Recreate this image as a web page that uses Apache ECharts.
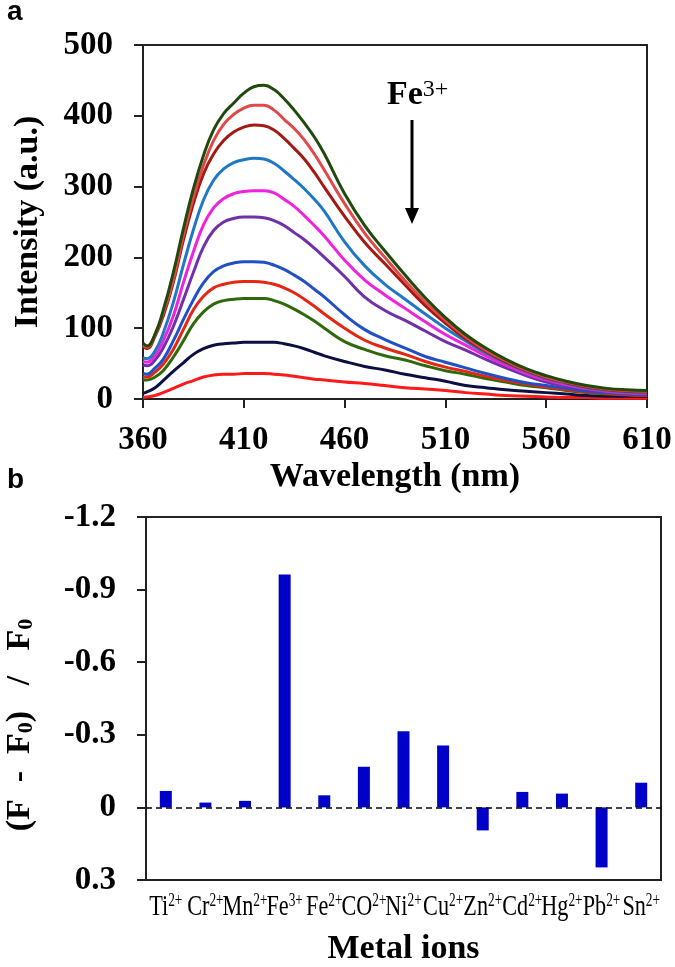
<!DOCTYPE html>
<html><head><meta charset="utf-8">
<script src="https://cdn.jsdelivr.net/npm/echarts@6/dist/echarts.min.js"></script>
<style>html,body{margin:0;padding:0;background:#fff;}#c{width:675px;height:967px;}</style>
</head><body><div id="c"></div>
<script>
// ---- Panel a: fluorescence spectra (Fe3+ titration) ----
const wavelengths = [360,362,366,370,375,380,385,390,395,400,405,410,415,420,425,430,435,440,445,450,460,470,480,490,500,510,520,530,540,550,560,570,580,590,600,610];
const curve1  = [79,75,92,125,178,240,297,344,380,403,418,432,441,443,437,424,408,390,370,346,290,245,209,175,143,115,91,72,56,43,33,25,19,15,13,12];
const curve2  = [76,73,91,121,168,231,285,330,365,388,402,411,415,415,408,395,382,366,346,323,276,234,200,167,137,111,88,69,54,41,31,24,18,14,12,11];
const curve3  = [74,71,89,117,164,224,276,318,346,365,377,384,387,386,380,368,354,339,320,299,258,221,191,161,132,107,85,67,52,40,30,23,17,13,11,10];
const curve4  = [58,57,68,93,136,189,239,281,309,325,334,338,340,339,333,322,310,297,282,265,222,188,162,141,120,100,82,65,51,39,29,22,16,12,10,9];
const curve5  = [53,52,61,82,117,164,208,246,270,283,290,293,294,294,291,282,272,259,245,230,196,168,147,128,109,91,76,61,48,36,27,20,15,11,9,8];
const curve6  = [48,47,55,72,102,140,179,215,238,250,255,257,257,256,252,245,235,225,213,200,173,144,125,111,96,81,69,56,44,33,24,18,13,10,8,7];
const curve7  = [36,35,44,56,82,112,140,164,180,188,192,194,194,193,189,183,175,166,155,144,119,98,84,72,60,52,44,36,29,23,19,15,11,9,7,6];
const curve8  = [31,31,38,49,70,98,126,145,157,162,165,166,166,165,162,157,150,141,131,120,100,83,72,63,53,45,39,32,26,21,17,13,10,8,6,5];
const curve9  = [27,27,31,40,59,82,106,123,134,139,141,142,142,142,139,134,127,119,110,100,81,70,61,55,47,40,35,29,24,19,16,12,9,7,6,5];
const curve10 = [8,10,16,26,39,51,63,71,76,78,79,80,80,80,80,78,75,71,66,61,53,46,41,35,30,25,19,16,13,11,9,7,5,4,4,4];
const curve11 = [2,3,5,9,15,21,26,31,34,35,35,36,36,36,35,34,32,30,28,27,24,22,19,16,14,12,9,7,5,4,3,2,2,1,1,1];
const curves = [curve1,curve2,curve3,curve4,curve5,curve6,curve7,curve8,curve9,curve10,curve11];
const curveColors = ['#1f4a0c','#e0484a','#a31a12','#1f78c6','#f022dc','#7030aa','#2050c6','#e62612','#2e6a0a','#0c1040','#ff1a1a'];

// ---- Panel b: metal ion selectivity ----
const metalIons = ['Ti2+','Cr2+','Mn2+','Fe3+','Fe2+','CO2+','Ni2+','Cu2+','Zn2+','Cd2+','Hg2+','Pb2+','Sn2+'];
const quenchRatio = [-0.068,-0.020,-0.027,-0.962,-0.050,-0.168,-0.315,-0.256,0.095,-0.064,-0.057,0.248,-0.102];

const SERIF = '"Liberation Serif","Times New Roman",serif';
const chart = echarts.init(document.getElementById('c'), null, {renderer:'canvas'});

const lineSeries = curves.map((c, i) => ({
  type:'line', xAxisIndex:0, yAxisIndex:0,
  data: wavelengths.map((w, j) => [w, c[j]]),
  smooth: 0.45, showSymbol:false, silent:true,
  lineStyle:{color:curveColors[i], width:3},
  itemStyle:{color:curveColors[i]},
  z: 20 - i
}));

const tickFont = {fontFamily:SERIF, fontWeight:'bold', fontSize:33, color:'#000'};
const nameFont = {fontFamily:SERIF, fontWeight:'bold', fontSize:34, color:'#000'};
const axisLineStyle = {color:'#222', width:2};

const baseGraphic = [
  {id:'pa', type:'text', x:7, y:-2, style:{text:'a', font:'bold 28px "Liberation Sans", Arial, sans-serif', fill:'#000'}},
  {id:'pb', type:'text', x:7, y:466, style:{text:'b', font:'bold 28px "Liberation Sans", Arial, sans-serif', fill:'#000'}},
  {id:'fe', type:'text', x:387, y:78, style:{text:'{a|Fe}{b|3+}', rich:{
    a:{fontFamily:SERIF, fontWeight:'bold', fontSize:34, fill:'#000'},
    b:{fontFamily:SERIF, fontSize:24, fill:'#000', verticalAlign:'top'}}}},
  {id:'arrS', type:'line', shape:{x1:412, y1:120, x2:412, y2:212}, style:{stroke:'#000', lineWidth:3}},
  {id:'arrH', type:'polygon', shape:{points:[[405,208],[419,208],[412,224]]}, style:{fill:'#000'}},
  {id:'yb', type:'text', x:20, y:725, rotation:Math.PI/2, style:{
    text:'{t|(F  -  F}{u|0}{t|)   /   F}{u|0}', align:'center', verticalAlign:'middle',
    rich:{
      t:{fontFamily:SERIF, fontWeight:'bold', fontSize:34, fill:'#000'},
      u:{fontFamily:SERIF, fontWeight:'bold', fontSize:22, fill:'#000', verticalAlign:'bottom'}
    }}}
];

chart.setOption({
  animation:false,
  backgroundColor:'#fff',
  grid:[
    {left:143, top:45, width:504, height:354, show:true, borderColor:'#222', borderWidth:2, backgroundColor:'transparent'},
    {left:146, top:517, width:515, height:370, show:true, borderColor:'#222', borderWidth:2, backgroundColor:'transparent'}
  ],
  xAxis:[
    {type:'value', gridIndex:0, min:360, max:610, interval:50,
     axisLine:{show:true, onZero:false, lineStyle:axisLineStyle},
     axisTick:{show:true, length:9, lineStyle:{color:'#222', width:2}},
     axisLabel:Object.assign({margin:25}, tickFont),
     splitLine:{show:false},
     name:'Wavelength (nm)', nameLocation:'middle', nameGap:61, nameTextStyle:nameFont},
    {type:'category', gridIndex:1, data:metalIons,
     axisLine:{show:true, onZero:false, lineStyle:axisLineStyle},
     axisTick:{show:false},
     axisLabel:{show:false},
     splitLine:{show:false},
     name:'Metal ions', nameLocation:'middle', nameGap:52, nameTextStyle:nameFont}
  ],
  yAxis:[
    {type:'value', gridIndex:0, min:0, max:500, interval:100,
     axisLine:{show:true, lineStyle:axisLineStyle},
     axisTick:{show:true, length:9, lineStyle:{color:'#222', width:2}},
     axisLabel:Object.assign({margin:30}, tickFont),
     splitLine:{show:false},
     name:'Intensity (a.u.)', nameLocation:'middle', nameGap:98, nameTextStyle:nameFont},
    {type:'value', gridIndex:1, min:-1.2, max:0.3, interval:0.3, inverse:true,
     axisLine:{show:true, onZero:false, lineStyle:axisLineStyle},
     axisTick:{show:true, length:9, lineStyle:{color:'#222', width:2}},
     axisLabel:Object.assign({margin:30}, tickFont),
     splitLine:{show:false}}
  ],
  series: lineSeries.concat([{
    type:'bar', xAxisIndex:1, yAxisIndex:1, data:quenchRatio, barWidth:12,
    itemStyle:{color:'#0000c8'}, silent:true,
    markLine:{silent:true, symbol:['none','none'], label:{show:false},
      lineStyle:{color:'#000', type:[6,4], width:1.5},
      data:[{yAxis:0}]}
  }]),
  graphic: baseGraphic
});

// Category labels (condensed Times-like text with superscript charges), placed at the axis's category positions
const axisY = chart.convertToPixel({yAxisIndex:1}, 0.3);
const catLabels = metalIons.map((name, i) => {
  const m = name.match(/^(.*?)(\d\+)$/);
  const x = chart.convertToPixel({xAxisIndex:1}, i);
  return {id:'cat'+i, type:'text', x:x, y:axisY + 12, scaleX:0.74, style:{
    text:'{m|'+m[1]+'}{s|'+m[2]+'}', align:'center', verticalAlign:'top',
    rich:{
      m:{fontFamily:SERIF, fontSize:30, fill:'#000', lineHeight:31},
      s:{fontFamily:SERIF, fontSize:18, fill:'#000', verticalAlign:'top', lineHeight:18}
    }}};
});
chart.setOption({graphic: baseGraphic.concat(catLabels)});
</script></body></html>
